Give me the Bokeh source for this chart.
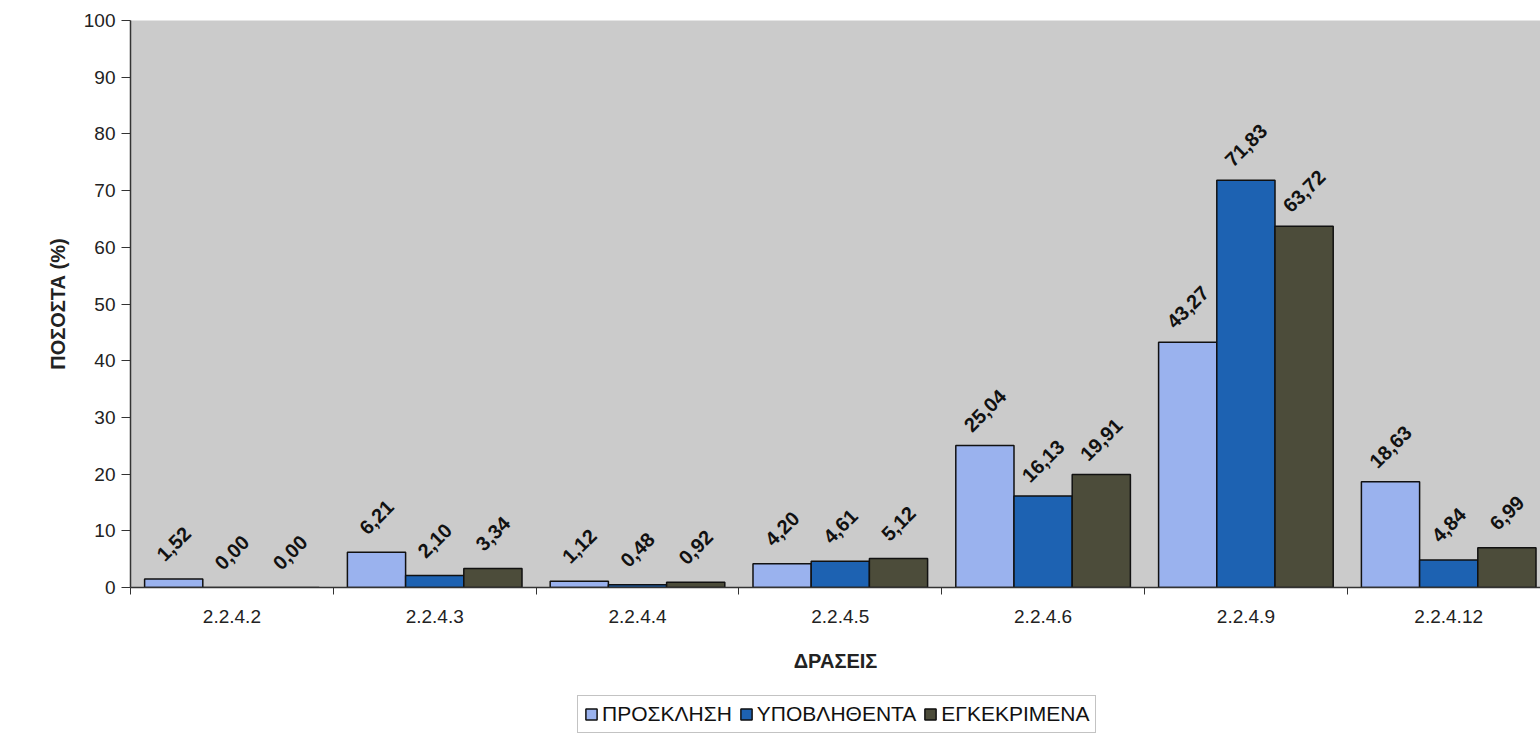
import math
from bokeh.plotting import figure
from bokeh.layouts import column
from bokeh.models import (ColumnDataSource, Range1d, LinearAxis, FixedTicker,
                          Legend, LegendItem)
from bokeh.core.properties import value
from bokeh.embed import file_html
from bokeh.resources import INLINE

# ---- data ----
categories = ["2.2.4.2", "2.2.4.3", "2.2.4.4", "2.2.4.5", "2.2.4.6", "2.2.4.9", "2.2.4.12"]
series_names = ["ΠΡΟΣΚΛΗΣΗ", "ΥΠΟΒΛΗΘΕΝΤΑ", "ΕΓΚΕΚΡΙΜΕΝΑ"]
proskliisi = [1.52, 6.21, 1.12, 4.20, 25.04, 43.27, 18.63]
ypovlithenta = [0.00, 2.10, 0.48, 4.61, 16.13, 71.83, 4.84]
egkekrimena = [0.00, 3.34, 0.92, 5.12, 19.91, 63.72, 6.99]
y_ticks = [0, 10, 20, 30, 40, 50, 60, 70, 80, 90, 100]

colors = ["#9AB2EE", "#1D62B2", "#4C4C3A"]
series_values = [proskliisi, ypovlithenta, egkekrimena]

W = 1540
frame_left, frame_top = 130, 20
frame_h = 567
bottom_panel = 90
H1 = frame_top + frame_h + bottom_panel
H2 = 70
frame_w = W - frame_left
cat_px = 202.8
x_end = frame_w / cat_px

p = figure(width=W, height=H1,
           output_backend="svg", toolbar_location=None,
           x_range=Range1d(0, x_end), y_range=Range1d(0, 100),
           min_border_left=frame_left, min_border_top=frame_top,
           min_border_right=0, min_border_bottom=bottom_panel,
           x_axis_type=None, y_axis_type=None)
p.background_fill_color = "#CBCBCB"
p.border_fill_color = "white"
p.outline_line_color = None

bar_w = 0.287
centers = [i + 0.5 for i in range(len(categories))]
for k, (vals, col) in enumerate(zip(series_values, colors)):
    xs = [c + (k - 1) * bar_w for c in centers]
    src = ColumnDataSource(dict(x=xs, top=vals,
                                lbl=[f"{v:.2f}".replace(".", ",") for v in vals]))
    p.vbar(x="x", top="top", bottom=0, width=bar_w, source=src,
           fill_color=col, line_color="#111111", line_width=1.5)
    p.text(x="x", y="top", text="lbl", source=src, angle=math.pi / 4,
           text_align="center", text_baseline="middle", y_offset=-35,
           text_font=value("Liberation Sans"), text_font_style="bold",
           text_font_size="20px", text_color="#111111")

# y axis
yax = LinearAxis(ticker=FixedTicker(ticks=y_ticks))
yax.axis_label = "ΠΟΣΟΣΤΑ (%)"
yax.axis_label_text_font = "Liberation Sans"
yax.axis_label_text_font_style = "bold"
yax.axis_label_text_font_size = "20px"
yax.axis_label_text_color = "#222222"
yax.axis_label_standoff = 12
yax.major_label_text_font = "Liberation Sans"
yax.major_label_text_font_size = "19px"
yax.major_label_text_color = "#222222"
yax.major_tick_in = 0
yax.major_tick_out = 9
yax.major_tick_line_color = "#333333"
yax.minor_tick_line_color = None
yax.axis_line_color = "#333333"
yax.axis_line_width = 1.5
yax.major_label_standoff = 6
p.add_layout(yax, "left")

# x axis: labels at category centres, tick marks at category boundaries
xax = LinearAxis(ticker=FixedTicker(ticks=centers,
                                    minor_ticks=list(range(len(categories) + 1))))
xax.major_label_overrides = {c: cat for c, cat in zip(centers, categories)}
xax.axis_label = "ΔΡΑΣΕΙΣ"
xax.axis_label_text_font = "Liberation Sans"
xax.axis_label_text_font_style = "bold"
xax.axis_label_text_font_size = "20px"
xax.axis_label_text_color = "#222222"
xax.axis_label_standoff = 24
xax.major_label_text_font = "Liberation Sans"
xax.major_label_text_font_size = "19px"
xax.major_label_text_color = "#222222"
xax.major_label_standoff = 15
xax.major_tick_line_color = None
xax.minor_tick_in = 0
xax.minor_tick_out = 7
xax.minor_tick_line_color = "#333333"
xax.axis_line_color = "#333333"
xax.axis_line_width = 1.5
p.add_layout(xax, "below")

p.ygrid.ticker = FixedTicker(ticks=y_ticks)
p.ygrid.grid_line_color = "#3A3A3A"
p.ygrid.grid_line_width = 1.2
p.xgrid.grid_line_color = None

# ---- legend strip (separate figure directly under the chart) ----
p2 = figure(width=W, height=H2, output_backend="svg", toolbar_location=None,
            x_axis_type=None, y_axis_type=None,
            min_border_left=0, min_border_right=0, min_border_top=0, min_border_bottom=0)
p2.outline_line_color = None
p2.background_fill_color = "white"
p2.border_fill_color = "white"
p2.xgrid.grid_line_color = None
p2.ygrid.grid_line_color = None
leg_renderers = []
for vals, col in zip(series_values, colors):
    r = p2.vbar(x=centers, top=vals, width=bar_w, fill_color=col,
                line_color="#111111", line_width=1.5, visible=False)
    leg_renderers.append(r)

legend = Legend(items=[LegendItem(label=n, renderers=[r]) for n, r in zip(series_names, leg_renderers)],
                orientation="horizontal", location=(447, 14))
legend.label_text_font = "Liberation Sans"
legend.label_text_font_size = "21px"
legend.label_text_color = "#111111"
legend.glyph_width = 14
legend.glyph_height = 14
legend.label_standoff = 4
legend.spacing = 7
legend.padding = 6
legend.margin = 0
legend.border_line_color = "#888888"
legend.background_fill_color = "white"
legend.background_fill_alpha = 1
legend.inactive_fill_alpha = 0
p2.add_layout(legend, "center")

layout = column(p, p2, spacing=0)
open("out.html", "w").write(file_html(layout, INLINE))
